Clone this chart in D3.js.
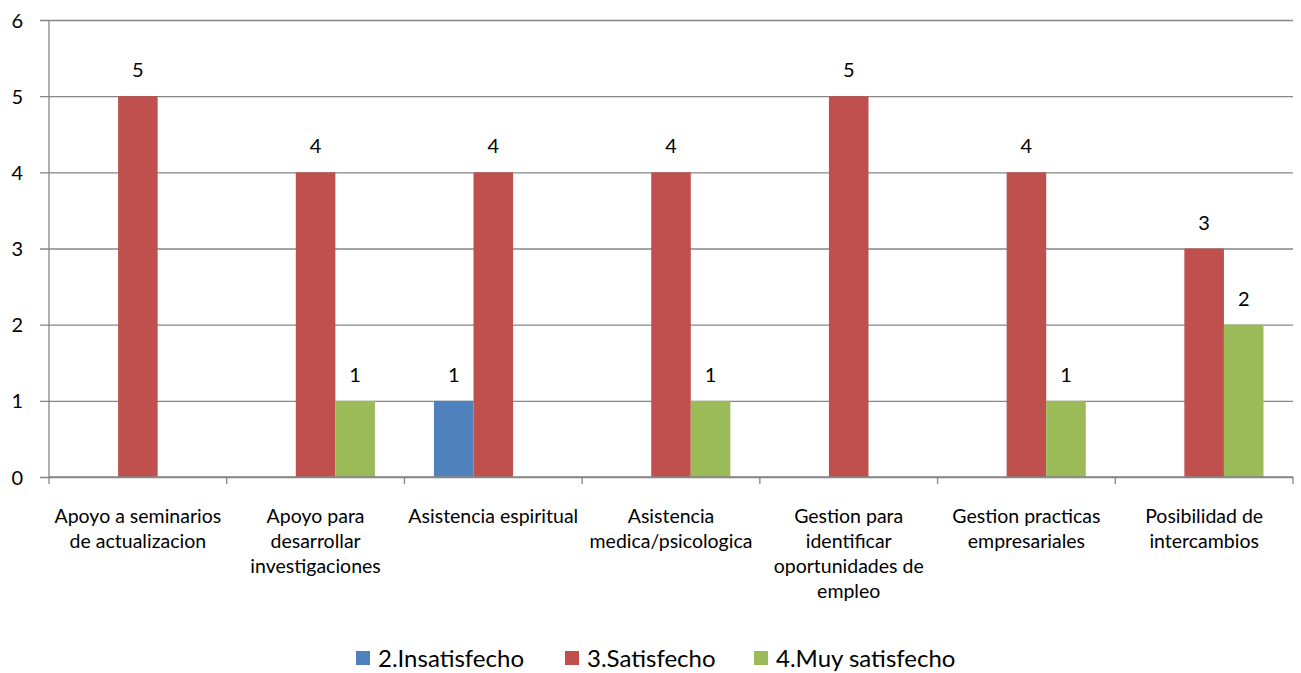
<!DOCTYPE html>
<html>
<head>
<meta charset="utf-8">
<script src="https://cdn.jsdelivr.net/npm/d3@7/dist/d3.min.js"></script>
<style>
    body { margin: 0; background: #fff; }
    text { font-family: Lato, "Open Sans", sans-serif; fill: #000; }
</style>
</head>
<body>
<div id="chart"></div>
<script>
// chart values
var categories = [
    "Apoyo a seminarios de actualizacion",
    "Apoyo para desarrollar investigaciones",
    "Asistencia espiritual",
    "Asistencia medica/psicologica",
    "Gestion para identificar oportunidades de empleo",
    "Gestion practicas empresariales",
    "Posibilidad de intercambios"
];
var seriesNames = ["2.Insatisfecho", "3.Satisfecho", "4.Muy satisfecho"];
var insatisfecho = [0, 0, 1, 0, 0, 0, 0];
var satisfecho = [5, 4, 4, 4, 5, 4, 3];
var muySatisfecho = [0, 1, 0, 1, 0, 1, 2];
var yTicks = [0, 1, 2, 3, 4, 5, 6];
var seriesColors = ["#4F81BD", "#C0504D", "#9BBB59"];

var gSettings = {
    width : 1301,
    height : 673,
    margin : { top : 20, right : 8, bottom : 196, left : 49 }
};

function drawChart(){
    var lMargin = gSettings.margin,
        lPlotW = gSettings.width - lMargin.left - lMargin.right,
        lPlotH = gSettings.height - lMargin.top - lMargin.bottom;

    var svg = d3.select("#chart").append("svg")
        .attr("width", gSettings.width)
        .attr("height", gSettings.height);

    var g = svg.append("g")
        .attr("transform", "translate(" + lMargin.left + "," + lMargin.top + ")");

    var x0 = d3.scaleBand().domain(categories).range([0, lPlotW]).paddingInner(0).paddingOuter(0);
    var x1 = d3.scaleBand().domain(seriesNames)
        .range([29.5, x0.bandwidth() - 29.5]).padding(0);
    var y = d3.scaleLinear().domain([0, 6]).range([lPlotH, 0]);

    //gridlines + y labels
    var yAxis = d3.axisLeft(y).tickValues(yTicks).tickSize(-lPlotW - 9).tickPadding(18)
        .tickFormat(d3.format("d"));
    var gy = g.append("g").attr("transform", "translate(-9,0)").call(yAxis);
    gy.select(".domain").remove();
    gy.selectAll(".tick line").attr("stroke", "#868686").attr("stroke-width", 1.3);
    gy.selectAll(".tick text").style("font-size", "20px").attr("x", -17).attr("dy", "0.35em");

    //left axis line
    g.append("line")
        .attr("x1", 0).attr("x2", 0).attr("y1", 0).attr("y2", lPlotH)
        .attr("stroke", "#868686").attr("stroke-width", 1.3);

    //bars
    var lSeries = [insatisfecho, satisfecho, muySatisfecho];
    var lRows = categories.map(function(c, i){
        return seriesNames.map(function(s, j){
            return { cat : c, name : s, value : lSeries[j][i], color : seriesColors[j] };
        });
    });

    var groups = g.selectAll(".cat").data(lRows).enter().append("g")
        .attr("class", "cat")
        .attr("transform", function(d){ return "translate(" + x0(d[0].cat) + ",0)"; });

    var bars = groups.selectAll(".bar")
        .data(function(d){ return d.filter(function(v){ return v.value > 0; }); })
        .enter();

    bars.append("rect")
        .attr("x", function(d){ return x1(d.name); })
        .attr("width", x1.bandwidth())
        .attr("y", function(d){ return y(d.value); })
        .attr("height", function(d){ return lPlotH - y(d.value); })
        .attr("fill", function(d){ return d.color; });

    bars.append("text")
        .attr("x", function(d){ return x1(d.name) + x1.bandwidth() / 2; })
        .attr("y", function(d){ return y(d.value) - 19; })
        .attr("text-anchor", "middle")
        .style("font-size", "20px")
        .text(function(d){ return d.value; });

    //bottom axis with tick marks at category boundaries
    var gx = g.append("g").attr("transform", "translate(0," + lPlotH + ")");
    gx.append("line").attr("x1", 0).attr("x2", lPlotW)
        .attr("stroke", "#868686").attr("stroke-width", 1.3);
    var lBounds = categories.map(function(c){ return x0(c); }).concat([lPlotW]);
    gx.selectAll(".tk").data(lBounds).enter().append("line")
        .attr("x1", function(d){ return d; }).attr("x2", function(d){ return d; })
        .attr("y1", 0).attr("y2", 7)
        .attr("stroke", "#868686").attr("stroke-width", 1.3);

    gx.selectAll(".lbl").data(categories).enter().append("text")
        .attr("class", "lbl")
        .attr("x", function(d){ return x0(d) + x0.bandwidth() / 2; })
        .attr("y", 46)
        .attr("text-anchor", "middle")
        .style("font-size", "19.5px")
        .text(function(d){ return d; })
        .call(wrap, x0.bandwidth() - 2, 25);

    //legend
    var lLegendX = [356, 565, 754];
    var legend = svg.selectAll(".leg").data(seriesNames).enter().append("g")
        .attr("transform", function(d, i){ return "translate(" + lLegendX[i] + ",658)"; });
    legend.append("rect").attr("x", 0).attr("y", -7).attr("width", 14).attr("height", 14)
        .attr("fill", function(d, i){ return seriesColors[i]; });
    legend.append("text").attr("x", 22).attr("dy", "0.36em")
        .style("font-size", "24px")
        .text(function(d){ return d; });
}

//---------------------------------------------------------------
function wrap(pText, pWidth, pLineH){
    pText.each(function(){
        var text = d3.select(this),
            words = text.text().split(/\s+/),
            line = [],
            xPos = text.attr("x"),
            tspan = text.text(null).append("tspan").attr("x", xPos).attr("dy", 0);
        words.forEach(function(w){
            line.push(w);
            tspan.text(line.join(" "));
            if(tspan.node().getComputedTextLength() > pWidth && line.length > 1){
                line.pop();
                tspan.text(line.join(" "));
                line = [w];
                tspan = text.append("tspan").attr("x", xPos).attr("dy", pLineH).text(w);
            }
        });
    });
}

drawChart();
</script>
</body>
</html>
